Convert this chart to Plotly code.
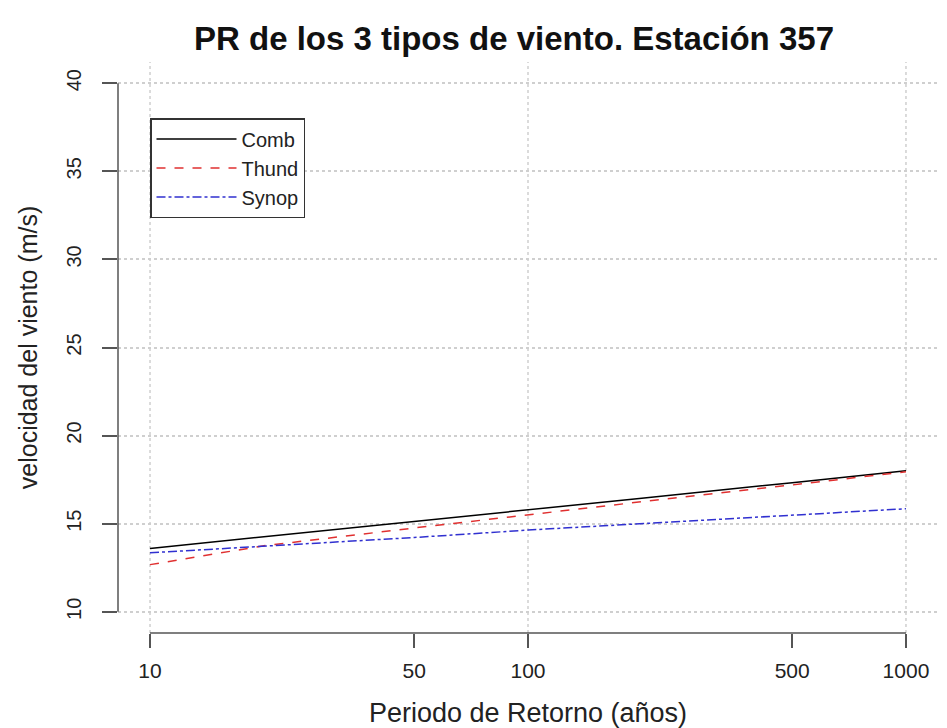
import plotly.graph_objects as go

# Return periods (years)
periodo = [10, 20, 50, 100, 200, 500, 1000]

# Wind speed (m/s)
comb = [13.6, 14.25, 15.12, 15.8, 16.45, 17.33, 18.0]
thund = [12.68, 13.75, 14.76, 15.52, 16.25, 17.2, 17.95]
synop = [13.35, 13.72, 14.22, 14.64, 15.0, 15.45, 15.85]

x_ticks = [10, 50, 100, 500, 1000]
y_ticks = [10, 15, 20, 25, 30, 35, 40]
grid_x = [10, 100, 1000]

FONT = "Liberation Sans, Arial, Helvetica, sans-serif"

# page body has an 8px margin: size the figure so that it fills the 947x728 window
W, H = 931, 720
L, R, T, B = 110, 1, 54, 95
PW, PH = W - L - R, H - T - B
XPAD = 0.0847  # decades of padding on each side of the log x range

fig = go.Figure()
fig.add_trace(go.Scatter(x=periodo, y=comb, mode="lines", name="Comb",
                         line=dict(color="black", width=1.5, dash="solid")))
fig.add_trace(go.Scatter(x=periodo, y=thund, mode="lines", name="Thund",
                         line=dict(color="#e03030", width=1.5, dash="dash")))
fig.add_trace(go.Scatter(x=periodo, y=synop, mode="lines", name="Synop",
                         line=dict(color="#3030d0", width=1.5, dash="dashdot")))

# vertical dotted grid lines at decades
for gx in grid_x:
    fig.add_shape(type="line", xref="x", yref="paper", x0=gx, x1=gx, y0=0, y1=1,
                  line=dict(color="#cfcfcf", width=1.5, dash="dot"), layer="below")

# R-style axis lines spanning first to last tick
fig.add_shape(type="line", xref="x", yref="paper", x0=x_ticks[0], x1=x_ticks[-1], y0=0, y1=0,
              line=dict(color="#555555", width=1.5))
fig.add_shape(type="line", xref="paper", yref="y", x0=0, x1=0, y0=y_ticks[0], y1=y_ticks[-1],
              line=dict(color="#555555", width=1.5))

fig.update_layout(
    width=W, height=H,
    margin=dict(l=L, r=R, t=T, b=B),
    paper_bgcolor="white", plot_bgcolor="white",
    font=dict(family=FONT, color="#222222"),
    title=dict(text="<b>PR de los 3 tipos de viento. Estación 357</b>",
               x=506 / W, xref="container", xanchor="center",
               y=1 - 30 / H, yref="container", yanchor="middle",
               font=dict(size=33, color="#111111", family=FONT)),
    xaxis=dict(type="log", range=[1 - XPAD, 3 + XPAD],
               tickvals=x_ticks, ticktext=[str(v) for v in x_ticks],
               ticks="outside", ticklen=14, tickwidth=1.5, tickcolor="#555555",
               tickfont=dict(size=21, color="#222222"),
               ticklabelstandoff=5,
               showgrid=False, zeroline=False, showline=False,
               title=dict(text="Periodo de Retorno (años)", font=dict(size=27, color="#222222"),
                          standoff=26),
               automargin=False),
    yaxis=dict(range=[10 - 1.2, 40 + 1.2],
               tickvals=y_ticks, ticktext=[str(v) for v in y_ticks],
               tickangle=-90,
               ticks="outside", ticklen=15, tickwidth=1.5, tickcolor="#555555",
               tickfont=dict(size=20, color="#222222"),
               ticklabelstandoff=13,
               showgrid=True, gridcolor="#cfcfcf", griddash="dot", gridwidth=1.5,
               zeroline=False, showline=False,
               title=dict(text="velocidad del viento (m/s)", font=dict(size=25, color="#222222"),
                          standoff=18),
               automargin=False),
    legend=dict(x=(142 - L) / PW, y=(H - B - 110) / PH, xanchor="left", yanchor="top",
                bgcolor="white", bordercolor="#333333", borderwidth=1.5,
                font=dict(size=20, color="#222222"),
                itemwidth=80, tracegroupgap=0),
    showlegend=True,
)

fig.write_html("out.html")
